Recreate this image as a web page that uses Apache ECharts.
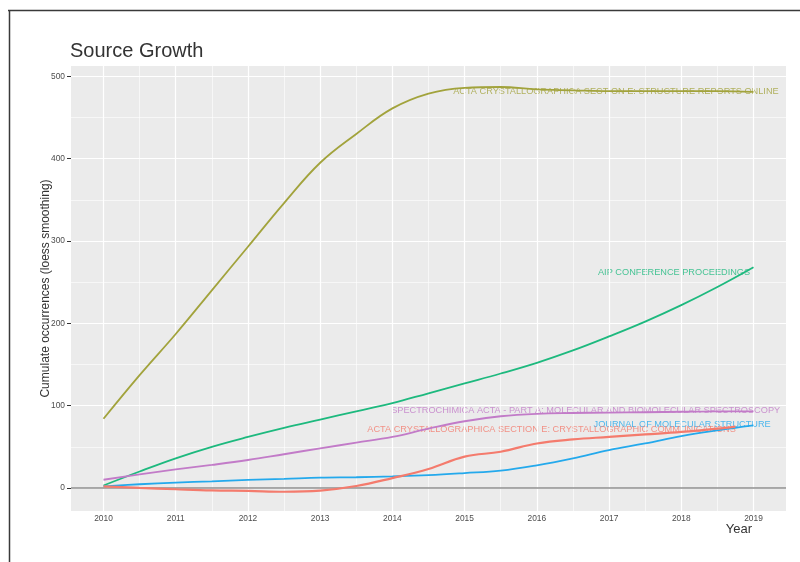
<!DOCTYPE html>
<html><head><meta charset="utf-8">
<script src="https://cdn.jsdelivr.net/npm/echarts@6/dist/echarts.min.js"></script>
<style>html,body{margin:0;padding:0;background:#fff}#c{width:800px;height:562px}</style>
</head><body><div id="c"></div>
<script>
// ---------- data ----------
const years = [2010,2010.5,2011,2011.5,2012,2012.5,2013,2013.5,2014,2014.5,2015,2015.5,2016,2016.5,2017,2017.5,2018,2018.5,2019];
const xTicks = [2010,2011,2012,2013,2014,2015,2016,2017,2018,2019];
const xMinor = [2010.5,2011.5,2012.5,2013.5,2014.5,2015.5,2016.5,2017.5,2018.5];
const yTicks = [0,100,200,300,400,500];
const yMinor = [50,150,250,350,450];

const nameStructureReports = "ACTA CRYSTALLOGRAPHICA SECTION E: STRUCTURE REPORTS ONLINE";
const nameAIP = "AIP CONFERENCE PROCEEDINGS";
const nameSpectro = "SPECTROCHIMICA ACTA - PART A: MOLECULAR AND BIOMOLECULAR SPECTROSCOPY";
const nameJMS = "JOURNAL OF MOLECULAR STRUCTURE";
const nameCrystComm = "ACTA CRYSTALLOGRAPHICA SECTION E: CRYSTALLOGRAPHIC COMMUNICATIONS";

const structureReports = [84,137,187,240,293,346,395,430,461,479,486,487,484,483,482,482,482,482,481];
const aip             = [3,20,36,50,62,73,83,93,103,115,127,139,152,167,184,202,222,244,268];
const spectro         = [10,16.5,22.5,28,34,41,48,55,62,72,81,87,90,91,91.5,92,92.5,93,93];
const jms             = [2,4.5,6.5,8,9.7,11,12.5,13,14,15.5,18,21,27.5,36,46,54,63,70,76];
const crystComm       = [2,0,-1.6,-3,-3.6,-4.6,-3.2,2.4,12,23,38,44,54,59,62,65,68,72,null];
const crystCommEnd    = [2018.75, 74.5];

// ---------- styling / layout ----------
const colors = {
  sr: '#A2A33C', aip: '#1DB97E', sp: '#C27BC8', jms: '#24A9EC', cc: '#F47B6D'
};
const labelAnchors = [
  {name: nameStructureReports, at: [2017.095, 481.3], color: colors.sr},
  {name: nameAIP,              at: [2017.90, 261.4],  color: colors.aip},
  {name: nameSpectro,          at: [2016.676, 93.9],  color: colors.sp},
  {name: nameJMS,              at: [2018.012, 77.3],  color: colors.jms},
  {name: nameCrystComm,        at: [2016.204, 71.5],  color: colors.cc}
];
const FONT = '"Liberation Sans", Arial, sans-serif';

function pairs(vals, extra) {
  const out = [];
  years.forEach((y, i) => { if (vals[i] !== null) out.push([y, vals[i]]); });
  if (extra) out.push(extra);
  return out;
}
function dataLine(name, vals, color, width, extra) {
  return {
    name, type: 'line', data: pairs(vals, extra), showSymbol: false, smooth: 0.4,
    lineStyle: {color, width}, itemStyle: {color}, z: 5, silent: true
  };
}
function gridLines(axis, values, width) {
  return {
    type: 'line', data: [], z: 1, silent: true,
    markLine: {
      silent: true, symbol: 'none', animation: false, label: {show: false},
      lineStyle: {color: '#ffffff', width, type: 'solid'},
      data: values.map(v => ({[axis]: v}))
    }
  };
}

const chart = echarts.init(document.getElementById('c'), null, {renderer: 'canvas'});
chart.setOption({
  animation: false,
  backgroundColor: '#ffffff',
  textStyle: {fontFamily: FONT},
  title: {
    text: 'Source Growth', left: 70, top: 41, padding: 0,
    textStyle: {fontFamily: FONT, fontSize: 20, fontWeight: 'normal', color: '#333333'}
  },
  grid: {left: 71, top: 66, width: 715, height: 445, show: true, backgroundColor: '#ebebeb', borderWidth: 0, containLabel: false},
  xAxis: {
    type: 'value', min: 2009.55, max: 2019.45,
    axisLine: {show: false},
    splitLine: {show: false},
    axisTick: {show: true, length: 3, lineStyle: {color: '#333', width: 1}, customValues: xTicks},
    axisLabel: {customValues: xTicks, fontSize: 8.4, color: '#4d4d4d', margin: 4, fontFamily: FONT, formatter: v => String(v)}
  },
  yAxis: {
    type: 'value', min: -28, max: 512.5,
    name: 'Cumulate occurrences (loess smoothing)', nameLocation: 'middle', nameGap: 19,
    nameMoveOverlap: false,
    nameTextStyle: {fontSize: 12, color: '#333333', fontFamily: FONT},
    axisLine: {show: false},
    splitLine: {show: false},
    axisTick: {show: true, length: 4, lineStyle: {color: '#333', width: 1}, customValues: yTicks},
    axisLabel: {customValues: yTicks, fontSize: 8.4, color: '#4d4d4d', margin: 6, fontFamily: FONT, formatter: v => String(v)}
  },
  graphic: [
    {type: 'line', shape: {x1: 8, y1: 10.5, x2: 800, y2: 10.5}, style: {stroke: '#3a3a3a', lineWidth: 1.5}, z: 100},
    {type: 'line', shape: {x1: 9.5, y1: 10, x2: 9.5, y2: 562}, style: {stroke: '#3a3a3a', lineWidth: 1.5}, z: 100},
    {type: 'text', right: 800 - 752, top: 523, style: {text: 'Year', fontSize: 13, fill: '#333333', fontFamily: FONT}, z: 100}
  ],
  series: [
    gridLines('xAxis', xMinor, 0.6),
    gridLines('yAxis', yMinor, 0.6),
    gridLines('xAxis', xTicks, 1.2),
    gridLines('yAxis', yTicks, 1.2),
    {
      type: 'line', data: [], z: 2, silent: true,
      markLine: {silent: true, symbol: 'none', animation: false, label: {show: false},
        lineStyle: {color: '#8f8f8f', width: 1.6, type: 'solid'}, data: [{yAxis: 0}]}
    },
    dataLine(nameStructureReports, structureReports, colors.sr, 1.8),
    dataLine(nameAIP, aip, colors.aip, 1.8),
    dataLine(nameSpectro, spectro, colors.sp, 1.9),
    dataLine(nameJMS, jms, colors.jms, 1.8),
    dataLine(nameCrystComm, crystComm, colors.cc, 2.2, crystCommEnd),
    {
      type: 'scatter', symbolSize: 0, z: 4, silent: true,
      data: labelAnchors.map(a => ({
        value: a.at, name: a.name,
        label: {show: true, formatter: a.name, position: [0, 0], align: 'center', verticalAlign: 'middle',
                fontSize: 9.2, color: a.color, fontFamily: FONT}
      }))
    }
  ]
});
</script>
</body></html>
